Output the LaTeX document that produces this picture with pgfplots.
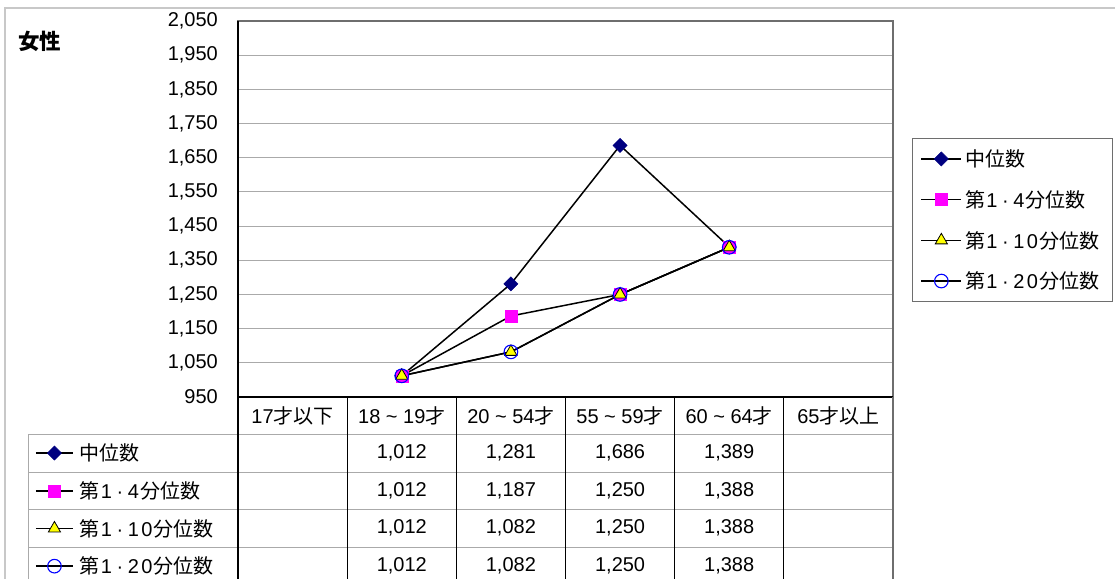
\documentclass[border=0pt]{standalone}
\usepackage{pgfplots}
\pgfplotsset{compat=1.18}
\usepackage{fontspec}
\setmainfont{Liberation Sans}
\newfontfamily\cjk{Noto Sans CJK JP}
\newcommand\fs{\fontsize{20bp}{24bp}\selectfont}
\newcommand\hw[1]{\makebox[13.5bp]{#1}}
\newcommand\lab[1]{{\cjk 第}#1{\cjk 分位数}}
\newcommand\tl{\ \textasciitilde\ }
\definecolor{navy}{RGB}{0,0,128}
\definecolor{magc}{RGB}{255,0,255}
\definecolor{yelc}{RGB}{255,255,0}
\definecolor{bluec}{RGB}{0,0,255}
\definecolor{gridc}{RGB}{170,170,170}
\definecolor{framec}{RGB}{200,200,200}
\definecolor{boxc}{RGB}{110,110,110}
\pgfplotsset{
  s1/.style={black, line width=1.5bp, mark=square*, mark size=5bp, mark options={fill=navy, draw=navy, rotate=45, line width=0.5bp}},
  s2/.style={black, line width=1.5bp, mark=square*, mark size=6bp, mark options={fill=magc, draw=magc, line width=0.5bp}},
  s3/.style={black, line width=1.5bp, mark=triangle*, mark size=7bp, mark options={fill=yelc, draw=black, line width=0.8bp}},
  s4/.style={black, line width=1.5bp, mark=o, mark size=6.8bp, mark options={draw=bluec, line width=1.1bp}},
}
\begin{document}
\begin{tikzpicture}
\useasboundingbox (0,0) rectangle (1115bp,-579bp);
\begin{scope}[x=1bp,y=-1bp]
  % outer frame
  \draw[framec, line width=1.2bp] (5,600) -- (5,8) -- (1120,8);
  % title
  \node[anchor=west, inner sep=0pt, font=\cjk\bfseries\fontsize{21.5bp}{24bp}\selectfont] at (18,41) {女性};
\end{scope}

\begin{axis}[
  at={(238bp,-21bp)}, anchor=north west,
  scale only axis, width=655bp, height=376bp,
  xmin=-0.5, xmax=5.5, ymin=950, ymax=2050,
  xtick=\empty, ytick={950,1050,...,2050},
  ymajorgrids, grid style={gridc, line width=1bp},
  major tick length=0pt,
  axis line style={boxc, line width=1.2bp},
  tick label style={font=\fs},
  /pgf/number format/1000 sep={,},
  /pgf/number format/assume math mode=true,
  yticklabel style={anchor=east, inner sep=0pt, xshift=-20bp},
  clip=false,
  legend cell align=left,
  legend style={at={(1.02901,0.68883)}, anchor=north west, draw=boxc, line width=1.2bp, fill=white,
    font=\fs, inner xsep=8bp, inner ysep=0pt, row sep=0pt, column sep=3bp,
    nodes={inner sep=0pt, minimum height=40.7bp, text width=139bp, align=left}},
  legend image code/.code={\draw[#1, mark repeat=2, mark phase=2] plot coordinates {(0bp,0bp) (20bp,0bp) (40bp,0bp)};},
]
\addplot[s1] coordinates {(1,1012) (2,1281) (3,1686) (4,1389)};
\addlegendentry{{\cjk 中位数}}
\addplot[s2] coordinates {(1,1012) (2,1187) (3,1250) (4,1388)};
\addlegendentry{\lab{\hw{1}\hw{·}\hw{4}}}
\addplot[s3] coordinates {(1,1012) (2,1082) (3,1250) (4,1388)};
\addlegendentry{\lab{\hw{1}\hw{·}\hw{1}\hw{0}}}
\addplot[s4] coordinates {(1,1012) (2,1082) (3,1250) (4,1388)};
\addlegendentry{\lab{\hw{1}\hw{·}\hw{2}\hw{0}}}
\draw[black, line width=1.2bp] (axis cs:-0.5,950) -- (axis cs:5.5,950);
\draw[black, line width=1.2bp] (axis cs:-0.5,950) -- (axis cs:-0.5,2050);
\end{axis}

% hidden axis providing the data-table keys
\begin{axis}[
  at={(0bp,0bp)}, anchor=north west,
  scale only axis, width=1115bp, height=579bp,
  xmin=0, xmax=1, ymin=0, ymax=1, hide axis,
  legend cell align=left,
  legend style={at={(0.025112,0.250432)}, anchor=north west, draw=none, fill=none,
    font=\fs, inner xsep=7bp, inner ysep=0pt, row sep=0pt, column sep=6bp,
    nodes={inner sep=0pt, minimum height=37.7bp, text width=150bp, align=left}},
  legend image code/.code={\draw[#1, mark repeat=2, mark phase=2] plot coordinates {(0bp,0bp) (18.5bp,0bp) (37bp,0bp)};},
]
\addlegendimage{s1}\addlegendentry{{\cjk 中位数}}
\addlegendimage{s2}\addlegendentry{\lab{\hw{1}\hw{·}\hw{4}}}
\addlegendimage{s3}\addlegendentry{\lab{\hw{1}\hw{·}\hw{1}\hw{0}}}
\addlegendimage{s4}\addlegendentry{\lab{\hw{1}\hw{·}\hw{2}\hw{0}}}
\end{axis}

\begin{scope}[x=1bp,y=-1bp]
  % table grid
  \foreach \yy in {434,472,509,547} \draw[gridc, line width=1bp] (28,\yy) -- (893,\yy);
  \draw[gridc, line width=1bp] (28,434) -- (28,580);
  \foreach \xx in {238,347.17,456.33,565.5,674.67,783.83} \draw[black, line width=1.2bp] (\xx,397) -- (\xx,580);
  \draw[boxc, line width=1.2bp] (893,397) -- (893,580);
  % header
  \begin{scope}[every node/.style={font=\fs, inner sep=0pt}]
  \node at (292.6,415.5) {17{\cjk 才以下}};
  \node at (401.8,415.5) {18\tl19{\cjk 才}};
  \node at (510.9,415.5) {20\tl54{\cjk 才}};
  \node at (620.1,415.5) {55\tl59{\cjk 才}};
  \node at (729.2,415.5) {60\tl64{\cjk 才}};
  \node at (838.4,415.5) {65{\cjk 才以上}};
  % values
  \node at (401.8,453) {1,012}; \node at (510.9,453) {1,281}; \node at (620.1,453) {1,686}; \node at (729.2,453) {1,389};
  \node at (401.8,490.5) {1,012}; \node at (510.9,490.5) {1,187}; \node at (620.1,490.5) {1,250}; \node at (729.2,490.5) {1,388};
  \node at (401.8,528) {1,012}; \node at (510.9,528) {1,082}; \node at (620.1,528) {1,250}; \node at (729.2,528) {1,388};
  \node at (401.8,566) {1,012}; \node at (510.9,566) {1,082}; \node at (620.1,566) {1,250}; \node at (729.2,566) {1,388};
  \end{scope}
\end{scope}
\end{tikzpicture}
\end{document}
